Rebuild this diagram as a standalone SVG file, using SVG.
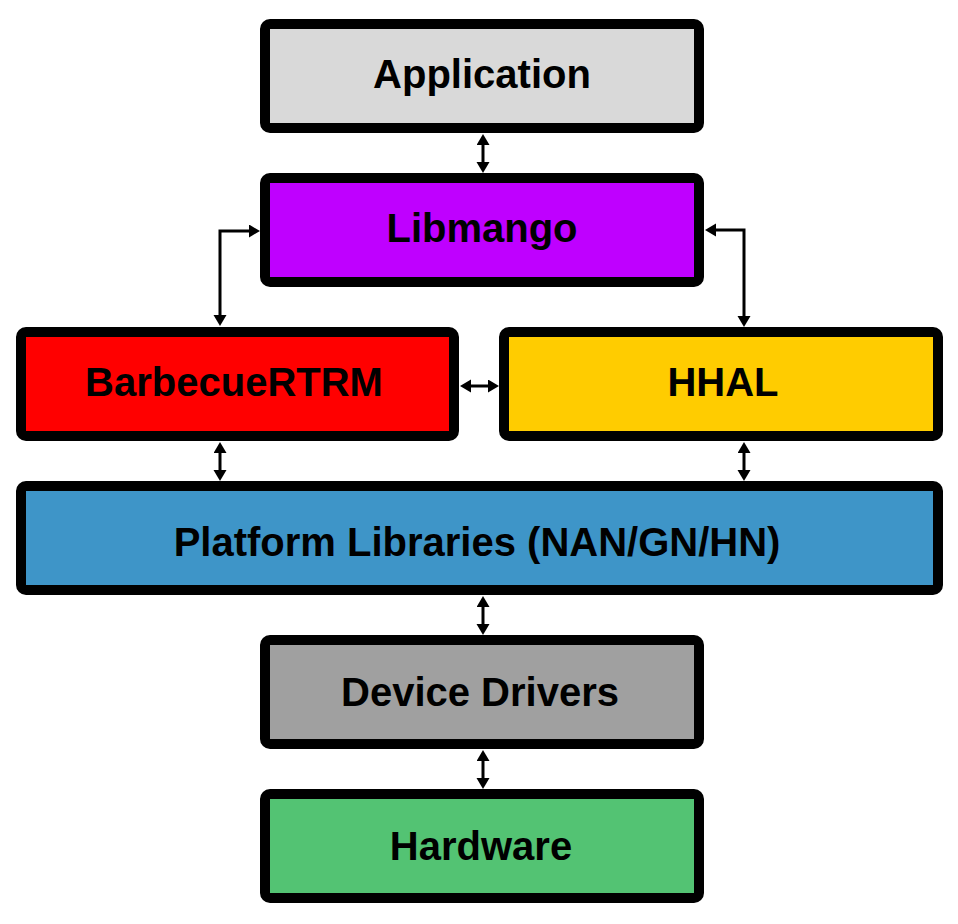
<svg xmlns="http://www.w3.org/2000/svg" width="958" height="924" viewBox="0 0 958 924">
<defs>
<style>
.box{stroke:#000;stroke-width:10}
.lbl{font-family:"Liberation Sans",Arial,sans-serif;font-weight:bold;font-size:40px;fill:#000;text-anchor:middle}
.con{fill:none;stroke:#000;stroke-width:3;marker-start:url(#ah);marker-end:url(#ah)}
</style>
<marker id="ah" markerUnits="userSpaceOnUse" markerWidth="12" markerHeight="14" refX="3" refY="6.5" orient="auto-start-reverse" viewBox="0 0 12 14">
<path d="M0,0 L11,6.5 L0,13 z" fill="#000"/>
</marker>
</defs>
<rect width="958" height="924" fill="#fff"/>
<g id="connectors">
<path class="con" d="M483,142 V165"/>
<path class="con" d="M252,231 H220 V318"/>
<path class="con" d="M713,230 H744 V319"/>
<path class="con" d="M468,386 H491"/>
<path class="con" d="M220,450 V473"/>
<path class="con" d="M744,450 V473"/>
<path class="con" d="M483,604 V627"/>
<path class="con" d="M483,758 V781"/>
</g>
<g id="application"><rect class="box" x="265" y="24" width="434" height="104" rx="5" fill="#D9D9D9"/><text class="lbl" x="482" y="88">Application</text></g>
<g id="libmango"><rect class="box" x="265" y="178" width="434" height="104" rx="5" fill="#BF00FF"/><text class="lbl" x="482" y="242">Libmango</text></g>
<g id="barbecue"><rect class="box" x="21" y="332" width="433" height="104" rx="5" fill="#FF0000"/><text class="lbl" x="234" y="396">BarbecueRTRM</text></g>
<g id="hhal"><rect class="box" x="504" y="332" width="434" height="104" rx="5" fill="#FFCC00"/><text class="lbl" x="723" y="396">HHAL</text></g>
<g id="platform"><rect class="box" x="21" y="486" width="917" height="104" rx="5" fill="#3E95C8"/><text class="lbl" x="477" y="556">Platform Libraries (NAN/GN/HN)</text></g>
<g id="drivers"><rect class="box" x="265" y="640" width="434" height="104" rx="5" fill="#A0A0A0"/><text class="lbl" x="480" y="706">Device Drivers</text></g>
<g id="hardware"><rect class="box" x="265" y="794" width="434" height="104" rx="5" fill="#53C373"/><text class="lbl" x="481" y="860">Hardware</text></g>
</svg>
